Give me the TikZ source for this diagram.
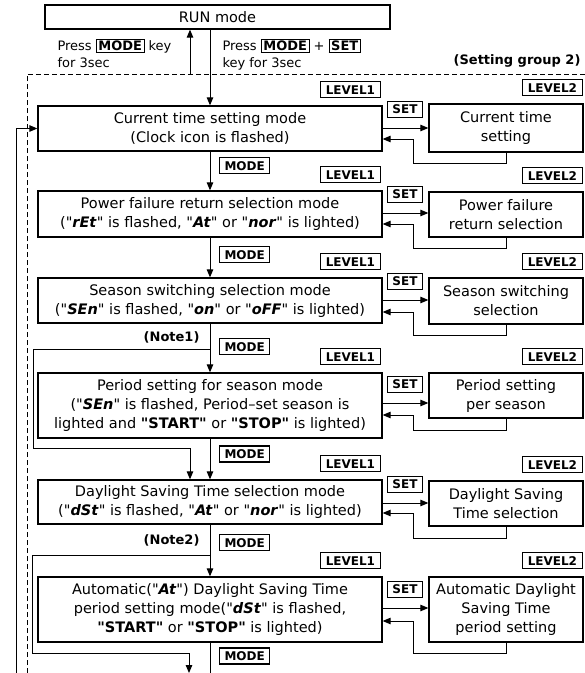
\documentclass[tikz,border=0pt]{standalone}
\usepackage{fontspec}
\setmainfont{DejaVu Sans}
\usepackage{tikz}
\usetikzlibrary{arrows.meta}
\newcommand{\keyb}[1]{{\setlength{\fboxsep}{1.5pt}\setlength{\fboxrule}{1pt}\fbox{\bfseries #1}}}
\newcommand{\qt}[1]{\textquotedbl#1\textquotedbl}
\newcommand{\seg}[1]{\qt{\textbf{\textit{#1}}}}
\tikzset{
    modebox/.style={draw, line width=1.3pt, minimum width=344pt, align=center, inner sep=2pt, font=\fontsize{14.5}{19}\selectfont},
    subbox/.style={draw, line width=1.3pt, minimum width=154pt, align=center, inner sep=2pt, font=\fontsize{14.5}{19}\selectfont},
    tagbox/.style={draw, line width=1.1pt, inner xsep=5pt, inner ysep=3.5pt, text height=9pt, text depth=0pt, font=\fontsize{12}{14}\selectfont\bfseries},
    arr/.style={-{Triangle[length=8pt,width=6.5pt]}, line width=1pt},
    note/.style={font=\fontsize{13}{15}\selectfont\bfseries}
}

\begin{document}
\begin{tikzpicture}[x=1pt, y=-1pt]
    \useasboundingbox (0,0) rectangle (585,673);
    \node[draw, line width=1.3pt, minimum width=345pt, minimum height=24pt, font=\fontsize{14.5}{19}\selectfont] (r) at (217.5,17) {RUN mode};
    \node[anchor=north west, align=left, font=\fontsize{13}{17}\selectfont] (p1) at (54,35) {Press \keyb{MODE} key\\for 3sec};
    \node[anchor=north west, align=left, font=\fontsize{13}{17}\selectfont] (p2) at (219,35) {Press \keyb{MODE} + \keyb{SET}\\key for 3sec};
    \node[note, anchor=east] (g) at (584,61) {(Setting group 2)};
    \draw[line width=1pt, dash pattern=on 5pt off 3pt] (27,673) |- (585,74);
    \node[modebox, minimum height=45pt] (m1) at (210,128.5) {Current time setting mode\\(Clock icon is flashed)};
    \node[modebox, minimum height=46pt] (m2) at (210,214) {Power failure return selection mode\\(\seg{rEt} is flashed, \seg{At} or \seg{nor} is lighted)};
    \node[modebox, minimum height=45pt] (m3) at (210,300.5) {Season switching selection mode\\(\seg{SEn} is flashed, \seg{on} or \seg{oFF} is lighted)};
    \node[modebox, minimum height=65pt] (m4) at (210,405.5) {Period setting for season mode\\(\seg{SEn} is flashed, Period\textendash set season is\\lighted and \textbf{\qt{START}} or \textbf{\qt{STOP}} is lighted)};
    \node[modebox, minimum height=44pt] (m5) at (210,502) {Daylight Saving Time selection mode\\(\seg{dSt} is flashed, \seg{At} or \seg{nor} is lighted)};
    \node[modebox, minimum height=65pt] (m6) at (210,609.5) {Automatic(\seg{At}) Daylight Saving Time\\period setting mode(\seg{dSt} is flashed,\\\textbf{\qt{START}} or \textbf{\qt{STOP}} is lighted)};
    \node[subbox, minimum height=48pt] (s1) at (506,128) {Current time\\setting};
    \node[subbox, minimum height=45pt] (s2) at (506,214.5) {Power failure\\return selection};
    \node[subbox, minimum height=46pt] (s3) at (506,301) {Season switching\\selection};
    \node[subbox, minimum height=45pt] (s4) at (506,395.5) {Period setting\\per season};
    \node[subbox, minimum height=45pt] (s5) at (506,503.5) {Daylight Saving\\Time selection};
    \node[subbox, minimum height=65pt] (s6) at (506,609.5) {Automatic Daylight\\Saving Time\\period setting};
    \foreach \i in {1,2,3,4,5,6} {
        \node[tagbox, anchor=south east] (a\i) at ([xshift=-2pt, yshift=7pt]m\i.north east) {LEVEL1};
        \node[tagbox, anchor=south east] (b\i) at ([xshift=-1pt, yshift=7pt]s\i.north east) {LEVEL2};
    }
    \foreach \i/\a/\b/\c in {1/128/139/163, 2/213/224/248, 3/300/312/335, 4/403/415/430, 5/503/513/538, 6/608/621/653} {
        \draw[arr] (m\i.east |- 0,\a) -- (s\i.west |- 0,\a);
        \node[tagbox, anchor=south] (k\i) at (405,\a-10) {SET};
        \draw[arr] (s\i.south) |- (413,\c) |- (m\i.east |- 0,\b);
    }
    \foreach \i/\y in {1/165.5, 2/254.5, 3/346.5, 4/454, 5/542.5, 6/656}
        \node[tagbox, anchor=west] (d\i) at (219,\y) {MODE};
    \coordinate (u) at (190,74);
    \draw[arr] (u) -- (u |- r.south);
    \draw[arr] (m1.north |- r.south) -- (m1.north);
    \draw[arr] (m1.south) -- (m2.north);
    \draw[arr] (m2.south) -- (m3.north);
    \draw[arr] (m3.south) -- (m4.north);
    \draw[arr] (m4.south) -- (m5.north);
    \draw[arr] (m5.south) -- (m6.north);
    \coordinate (e) at (210,673);
    \draw[line width=1pt] (m6.south) -- (e);
    \coordinate (n1) at (210,349);
    \draw[arr] (n1) -| (33,448) -| ([xshift=-20pt]m5.north);
    \node[note, anchor=east] (t1) at (203,337.5) {(Note1)};
    \coordinate (n2) at (210,555);
    \coordinate (e2) at (189,673);
    \draw[arr] (n2) -| (32,653) -| (e2);
    \node[note, anchor=east] (t2) at (203,540) {(Note2)};
    \coordinate (back) at (16,673);
    \draw[arr] (back) |- (m1.west);
\end{tikzpicture}
\end{document}
